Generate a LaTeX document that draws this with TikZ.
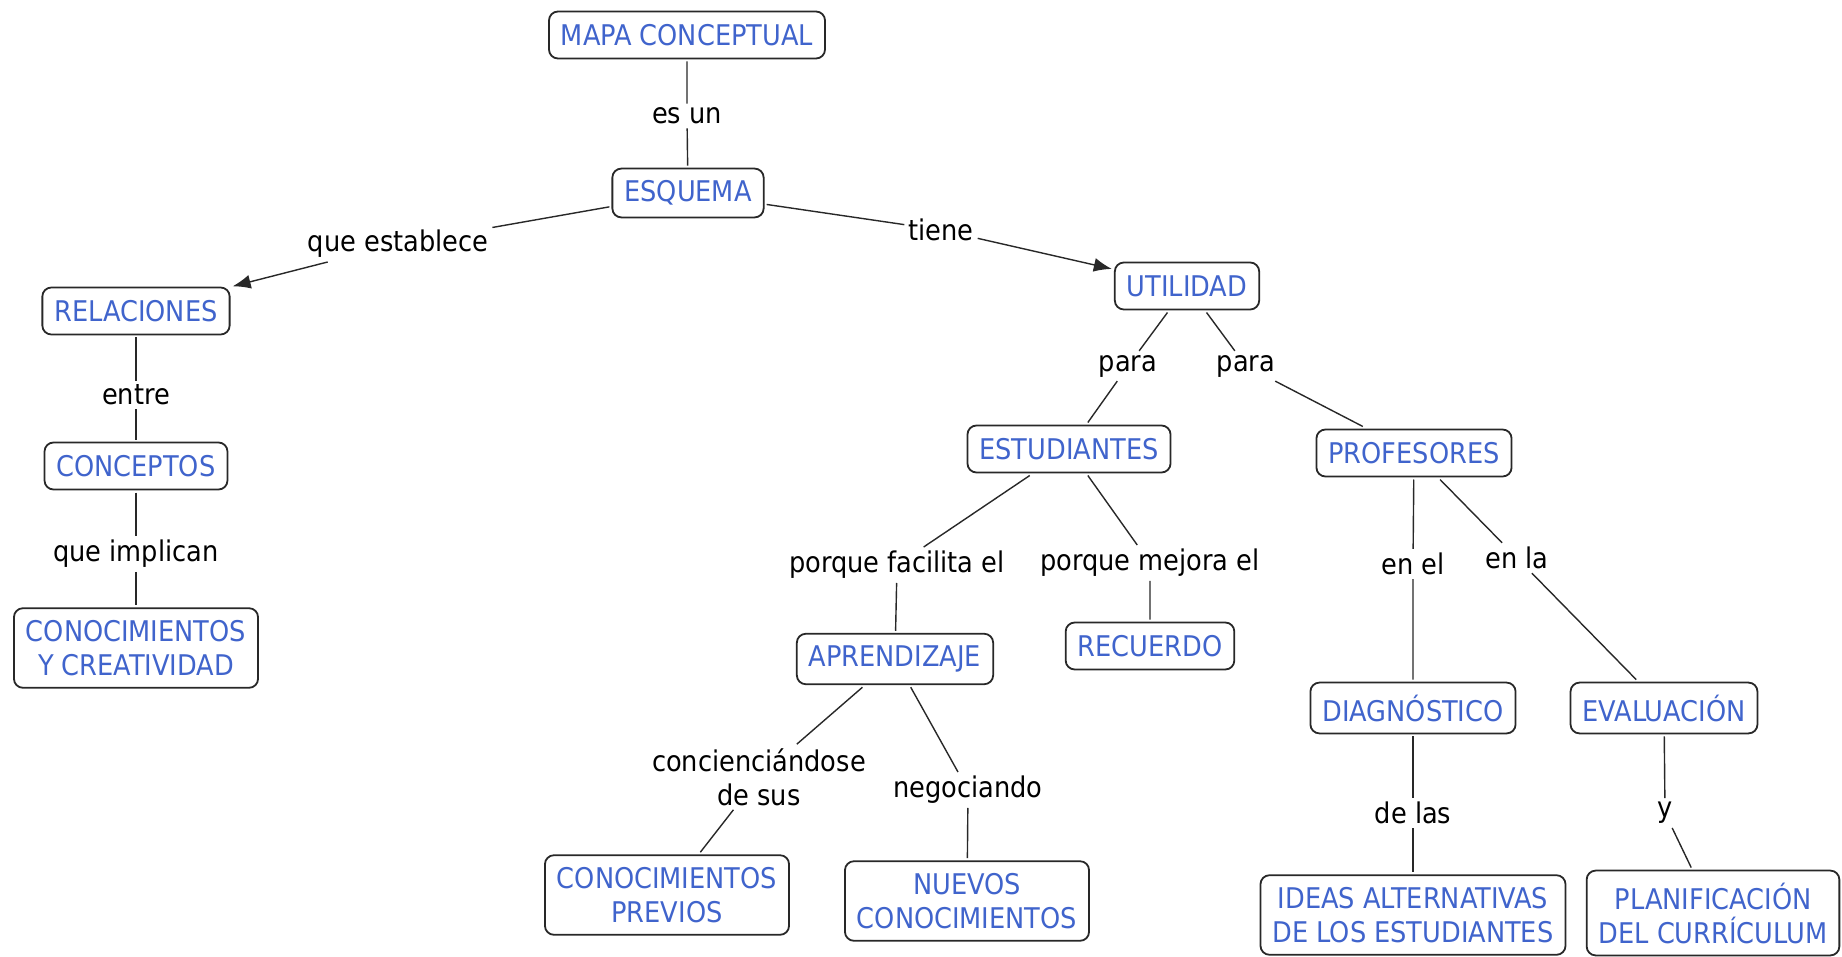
\documentclass[tikz,border=0pt]{standalone}
\usepackage{fontspec}
\setmainfont{DejaVu Sans Condensed}
\usetikzlibrary{arrows.meta}
\definecolor{cmapblue}{RGB}{64,100,204}
\definecolor{cmapline}{RGB}{40,40,40}
\tikzset{
  concept/.style={draw=cmapline, line width=1.8pt, rounded corners=9pt, fill=white,
    text=cmapblue, align=center, inner xsep=12pt, inner ysep=12pt,
    minimum height=47pt, outer sep=3pt, font=\fontsize{28.5}{34}\selectfont},
  linkword/.style={text=black, align=center, inner sep=4pt, yshift=-3pt,
    font=\fontsize{28.5}{34}\selectfont},
  link/.style={draw=cmapline, line width=1.4pt},
  linkarrow/.style={link, -{Latex[length=18pt,width=14pt]}}
}
\begin{document}
\begin{tikzpicture}[x=1pt,y=-1pt]
    \useasboundingbox (0,0) rectangle (1842,957);
    \fill[white] (0,0) rectangle (1842,957);
    % concepts
    \node[concept] (mapa) at (687,35) {MAPA CONCEPTUAL};
    \node[concept] (esquema) at (688,193) {ESQUEMA};
    \node[concept] (relac) at (136,311) {RELACIONES};
    \node[concept] (concep) at (136,466) {CONCEPTOS};
    \node[concept] (conocre) at (136,648) {CONOCIMIENTOS\\Y CREATIVIDAD};
    \node[concept] (util) at (1187,286) {UTILIDAD};
    \node[concept] (estud) at (1069,449) {ESTUDIANTES};
    \node[concept] (prof) at (1414,453) {PROFESORES};
    \node[concept] (aprend) at (895,659) {APRENDIZAJE};
    \node[concept] (recuerdo) at (1150,646) {RECUERDO};
    \node[concept] (diag) at (1413,708) {DIAGNÓSTICO};
    \node[concept] (eval) at (1664,708) {EVALUACIÓN};
    \node[concept] (previos) at (667,895) {CONOCIMIENTOS\\PREVIOS};
    \node[concept] (nuevos) at (967,901) {NUEVOS\\CONOCIMIENTOS};
    \node[concept] (ideas) at (1413,915) {IDEAS ALTERNATIVAS\\DE LOS ESTUDIANTES};
    \node[concept] (planif) at (1713,913) {PLANIFICACIÓN\\DEL CURRÍCULUM};
    % linking words
    \node[linkword] (esun) at (687,113) {es un};
    \node[linkword] (estab) at (398,241) {que establece};
    \node[linkword] (tiene) at (941,227) {tiene};
    \node[linkword] (entre) at (136,392) {entre};
    \node[linkword] (implican) at (136,551) {que implican};
    \node[linkword] (para1) at (1128,363) {para};
    \node[linkword] (para2) at (1246,363) {para};
    \node[linkword] (facilita) at (897,562) {porque facilita el};
    \node[linkword] (mejora) at (1150,560) {porque mejora el};
    \node[linkword] (enel) at (1413,561) {en el};
    \node[linkword] (enla) at (1517,555) {en la};
    \node[linkword] (concienc) at (759,774) {concienciándose\\de sus};
    \node[linkword] (negoc) at (968,787) {negociando};
    \node[linkword] (delas) at (1413,810) {de las};
    \node[linkword] (yy) at (1665,810) {y};
    % connectors
    \draw[link] (mapa) -- (esun) -- (esquema);
    \draw[linkarrow] (esquema) -- (estab) -- (relac);
    \draw[linkarrow] (esquema) -- (tiene) -- (util);
    \draw[link] (relac) -- (entre) -- (concep);
    \draw[link] (concep) -- (implican) -- (conocre);
    \draw[link] (util) -- (para1) -- (estud);
    \draw[link] (util) -- (para2) -- (prof);
    \draw[link] (estud) -- (facilita) -- (aprend);
    \draw[link] (estud) -- (mejora) -- (recuerdo);
    \draw[link] (prof) -- (enel) -- (diag);
    \draw[link] (prof) -- (enla) -- (eval);
    \draw[link] (aprend) -- (concienc) -- (previos);
    \draw[link] (aprend) -- (negoc) -- (nuevos);
    \draw[link] (diag) -- (delas) -- (ideas);
    \draw[link] (eval) -- (yy) -- (planif);
\end{tikzpicture}
\end{document}
